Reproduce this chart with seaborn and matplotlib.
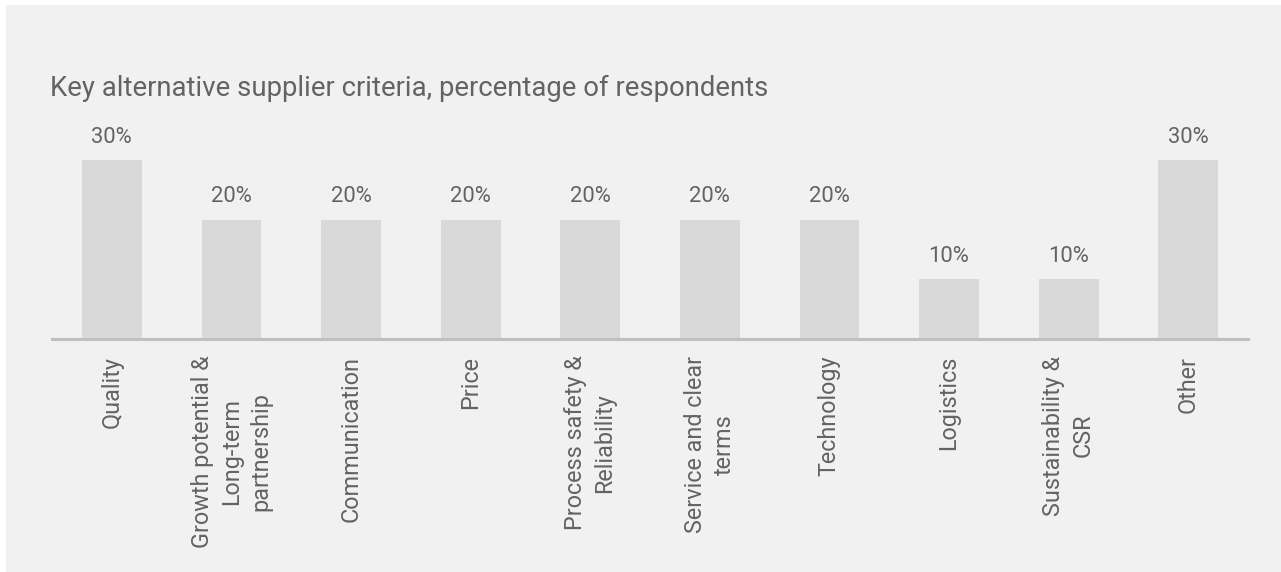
import matplotlib
matplotlib.use("Agg")
import matplotlib.pyplot as plt
from matplotlib.patches import Rectangle
import seaborn as sns
import pandas as pd

# Survey results
categories = [
    "Quality",
    "Growth potential &\nLong-term\npartnership",
    "Communication",
    "Price",
    "Process safety &\nReliability",
    "Service and clear\nterms",
    "Technology",
    "Logistics",
    "Sustainability &\nCSR",
    "Other",
]
shares = [30, 20, 20, 20, 20, 20, 20, 10, 10, 30]
title = "Key alternative supplier criteria, percentage of respondents"

sns.set_theme(style="white")
plt.rcParams["font.family"] = ["Roboto", "DejaVu Sans"]

TEXT = "#636363"
BAR = "#d9d9d9"
PANEL = "#f1f1f1"
AXIS = "#bfbfbf"

W, H = 1281, 572
fig = plt.figure(figsize=(W / 100, H / 100), dpi=100)
fig.patch.set_facecolor("white")
fig.patches.append(Rectangle((6 / W, 0), 1 - 6 / W, 1 - 5 / H,
                             transform=fig.transFigure, facecolor=PANEL,
                             edgecolor="none", zorder=-10))

ax = fig.add_axes([52 / W, (H - 339) / H, 1196 / W, (339 - 160) / H])
ax.set_facecolor("none")

df = pd.DataFrame({"criterion": categories, "share": shares})
sns.barplot(data=df, x="criterion", y="share", color=BAR, width=0.5,
            saturation=1, linewidth=0, ax=ax, zorder=2)

ax.set_xlim(-0.5, len(categories) - 0.5)
ax.set_ylim(0, 30)
ax.set_xlabel("")
ax.set_ylabel("")
ax.set_yticks([])

for side in ["top", "right", "left"]:
    ax.spines[side].set_visible(False)
ax.spines["bottom"].set_color(AXIS)
ax.spines["bottom"].set_linewidth(2.2)
ax.spines["bottom"].set_zorder(3)

ax.tick_params(axis="x", length=0, pad=12)
ax.set_xticks(range(len(categories)))
ax.set_xticklabels(categories, rotation=90, fontsize=16.8, color=TEXT,
                   multialignment="center", linespacing=1.35)

for bar, v in zip(ax.patches, shares):
    ax.annotate(f"{v}%", (bar.get_x() + bar.get_width() / 2, bar.get_height()),
                xytext=(0, 16.5), textcoords="offset points",
                ha="center", va="center", fontsize=15.8, color=TEXT,
                annotation_clip=False)

fig.text(50 / W, 1 - 88 / H, title, fontsize=19.8, color=TEXT,
         ha="left", va="center")

fig.savefig("out.png", dpi=100, facecolor=fig.get_facecolor())
